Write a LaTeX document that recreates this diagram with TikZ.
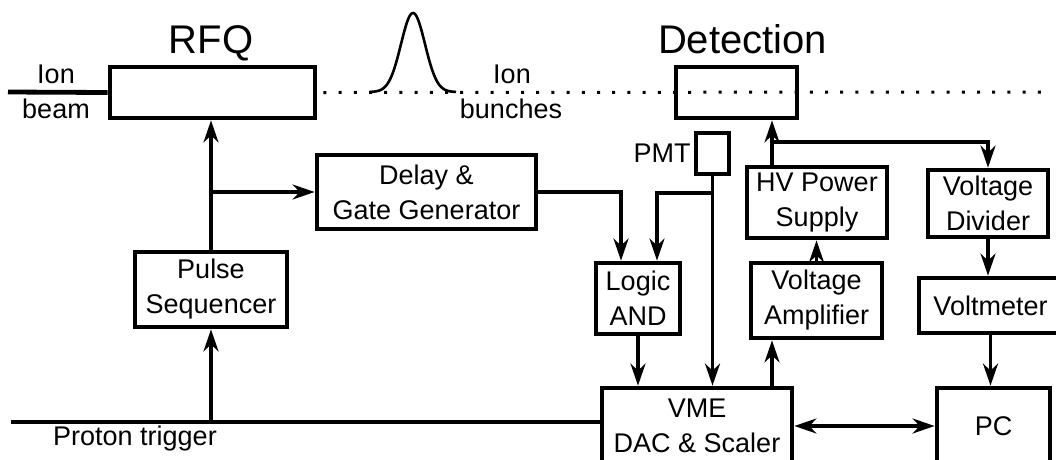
\documentclass[tikz,border=0pt]{standalone}
\usepackage{fontspec}
\setmainfont{Liberation Sans}
\usetikzlibrary{arrows.meta}
\begin{document}
\begin{tikzpicture}[x=1pt,y=-1pt,
  >={Stealth[length=22pt,width=15pt,inset=7pt]},
  box/.style={draw, line width=4.8pt, inner sep=0pt, align=center, font=\fontsize{27}{35}\selectfont},
  lbl/.style={inner sep=0pt, anchor=base, font=\fontsize{27}{35}\selectfont},
  ttl/.style={inner sep=0pt, anchor=base, font=\fontsize{40}{48}\selectfont},
  conn/.style={line width=3.2pt, ->},
  wire/.style={line width=3.2pt},
  ]
\useasboundingbox (0,0) rectangle (1056,459);

% boxes
\node[box, minimum width=205pt, minimum height=51pt] (rfq) at (212.5,92.5) {};
\node[box, minimum width=121pt, minimum height=51pt] (det) at (736.5,92.5) {};
\node[box, minimum width=33pt, minimum height=41pt] (pmt) at (712.5,153.5) {};
\node[box, minimum width=219pt, minimum height=74pt] (delay) at (426.5,192) {Delay \&\\Gate Generator};
\node[box, minimum width=152pt, minimum height=75pt] (ps) at (211,289.5) {Pulse\\Sequencer};
\node[box, minimum width=140pt, minimum height=71pt] (hv) at (817,202.5) {HV Power\\Supply};
\node[box, minimum width=120pt, minimum height=67pt] (vd) at (988,203.5) {Voltage\\Divider};
\node[box, minimum width=84pt, minimum height=71pt] (logic) at (638,298.5) {Logic\\AND};
\node[box, minimum width=131pt, minimum height=75pt] (va) at (816.5,300.5) {Voltage\\Amplifier};
\node[box, minimum width=143pt, minimum height=55pt] (vm) at (990.5,305.5) {Voltmeter};
\node[box, minimum width=190pt, minimum height=76pt] (vme) at (697,426) {VME\\DAC \& Scaler};
\node[box, minimum width=113pt, minimum height=76pt] (pc) at (993.5,426) {PC};

% labels
\node[ttl] (rfqt) at (211,53) {RFQ};
\node[ttl] (dett) at (742.5,53) {Detection};
\node[lbl] (ion1) at (56,83) {Ion};
\node[lbl] (beam) at (56,118) {beam};
\node[lbl] (ion2) at (512,83) {Ion};
\node[lbl] (bunch) at (511,118) {bunches};
\node[lbl] (pmtl) at (662,162) {PMT};
\node[lbl] (prot) at (135,445) {Proton trigger};

% beam line
\coordinate (bs) at (8,92);
\draw[line width=4.8pt] (bs) -- (rfq.west);
\coordinate (de) at (1045,92);
\draw[line width=3pt, dash pattern=on 3pt off 12.2pt, dash phase=-6pt] (rfq.east) -- (de);
\draw[line width=2.6pt] plot[domain=370:456, samples=90, smooth] (\x, {92-79*exp(-((\x-413)/12)^2/2)});

% connectors
\draw[conn] (ps.north) -- (ps.north |- rfq.south);
\coordinate (br1) at (ps.north |- delay.west);
\draw[conn] (br1) -- (delay.west);
\coordinate (pt) at (11,422);
\draw[wire] (pt) -- (pt -| vme.west);
\draw[conn] (pt -| ps.south) -- (ps.south);
\coordinate (l1) at ([xshift=-17pt]logic.north);
\coordinate (l2) at ([xshift=19pt]logic.north);
\draw[conn] (delay.east) -| (l1);
\draw[conn] (pmt.south) -- (pmt.south |- vme.north);
\coordinate (br2) at (712.5,193);
\draw[conn] (br2) -| (l2);
\draw[conn] (logic.south) -- (logic.south |- vme.north);
\coordinate (v1) at ([xshift=75pt]vme.north);
\draw[conn] (v1) -- (v1 |- va.south);
\draw[conn] (va.north) -- (va.north |- hv.south);
\coordinate (h1) at ([xshift=-45pt]hv.north);
\draw[conn] (h1) -- (h1 |- det.south);
\coordinate (h2) at (772,142);
\draw[conn] (h2) -| (vd.north);
\draw[conn] (vd.south) -- (vd.south |- vm.north);
\draw[conn] (vm.south) -- (vm.south |- pc.north);
\draw[conn, <->] (vme.east) -- (pc.west);
\end{tikzpicture}
\end{document}
